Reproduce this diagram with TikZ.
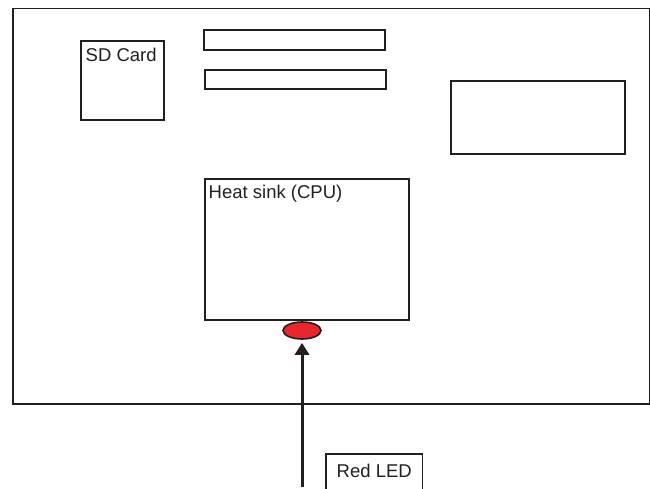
\documentclass[tikz,border=0pt]{standalone}
\usepackage{fontspec}
\setmainfont{Liberation Sans}
\usetikzlibrary{arrows.meta,shapes.geometric}
\definecolor{ink}{HTML}{231F20}
\definecolor{ledred}{HTML}{E8262E}
\begin{document}
\begin{tikzpicture}[x=1pt,y=-1pt,
  part/.style={draw=ink,line width=1.7pt,inner sep=0pt,anchor=north west},
  lbl/.style={inner sep=0pt,anchor=base west,text=ink,font=\fontsize{18.5}{20}\selectfont},
  ptr/.style={draw=ink,line width=3pt,-{Triangle[length=12pt,width=14pt]},shorten >=3pt}]
\useasboundingbox (0,0) rectangle (650,489);
% board
\node[part,line width=1.5pt,minimum width=637pt,minimum height=395pt] (board) at (12,8) {};
% SD card
\node[part,minimum width=83pt,minimum height=79pt] (sd) at (80,40) {};
\node[lbl] (sdt) at (85.5,62) {SD Card};
% bars
\node[part,minimum width=181pt,minimum height=20pt] (bar1) at (203,29) {};
\node[part,minimum width=181pt,minimum height=19pt] (bar2) at (204,69) {};
% right block
\node[part,minimum width=174pt,minimum height=73pt] (blk) at (450,80) {};
% heat sink
\node[part,minimum width=204pt,minimum height=141pt] (hs) at (204,178) {};
\node[lbl] (hst) at (208.5,198) {Heat sink (CPU)};
% LED
\node[ellipse,draw=ink,line width=1.6pt,fill=ledred,minimum width=38pt,minimum height=17pt,inner sep=0pt] (led) at (302,330.5) {};
% label box (open at bottom)
\node[inner sep=0pt,anchor=north west,minimum width=96pt,minimum height=35pt] (tag) at (326,454) {};
\draw[draw=ink,line width=1.5pt] (tag.south west) -- (tag.north west) -- (tag.north east) -- (tag.south east);
\node[lbl] (tagt) at (336.5,477) {Red LED};
% pointer
\coordinate (start) at (302,487);
\draw[ptr] (start) -- (led.south);
\end{tikzpicture}
\end{document}
